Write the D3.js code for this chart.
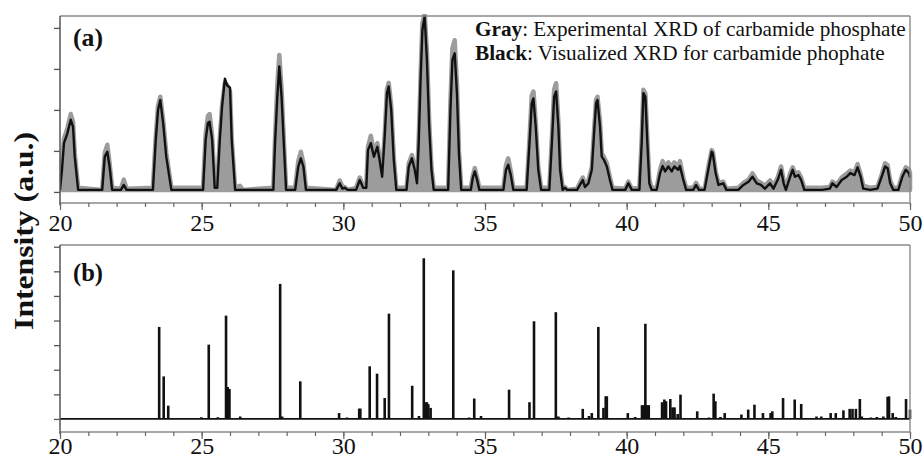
<!DOCTYPE html>
<html><head><meta charset="utf-8">
<script src="https://cdn.jsdelivr.net/npm/d3@7"></script>
<style>body{margin:0;background:#fff} svg{display:block} text{font-family:"Liberation Serif","Times New Roman",serif}</style>
</head><body><svg id="c" width="924" height="460"></svg>
<script>
// ---------- DATA ----------
const twoTheta = [20.00,20.07,20.14,20.26,20.38,20.46,20.52,20.64,21.49,21.58,21.67,21.75,21.84,22.15,22.25,22.35,23.28,23.38,23.46,23.54,23.64,23.75,23.93,25.05,25.14,25.22,25.28,25.37,25.46,25.55,25.64,25.72,25.82,25.90,26.00,26.06,26.18,26.35,26.45,27.53,27.59,27.67,27.74,27.82,27.91,27.98,28.30,28.41,28.50,28.59,28.68,29.75,29.87,29.97,30.05,30.15,30.45,30.58,30.70,30.81,30.87,30.97,31.08,31.20,31.28,31.37,31.46,31.54,31.60,31.69,31.78,31.87,32.23,32.31,32.42,32.52,32.60,32.66,32.73,32.79,32.87,32.95,33.03,33.11,33.19,33.70,33.78,33.85,33.93,34.01,34.08,34.16,34.50,34.57,34.64,34.72,34.80,35.65,35.74,35.82,35.91,36.00,36.47,36.57,36.65,36.71,36.79,36.88,36.98,37.27,37.36,37.44,37.51,37.59,37.65,37.74,37.82,37.90,38.25,38.35,38.45,38.53,38.65,38.77,38.85,38.92,38.97,39.06,39.12,39.20,39.30,39.41,39.50,39.95,40.06,40.18,40.45,40.53,40.59,40.66,40.73,40.80,40.88,41.06,41.18,41.27,41.36,41.47,41.59,41.68,41.82,41.88,42.00,42.10,42.35,42.45,42.55,42.75,42.88,43.00,43.04,43.14,43.24,43.41,43.52,43.94,44.12,44.30,44.44,44.59,44.74,44.88,45.06,45.18,45.33,45.45,45.54,45.62,45.77,45.86,45.94,46.06,46.16,46.27,46.60,46.90,47.17,47.26,47.41,47.59,47.77,47.89,48.04,48.15,48.26,48.35,48.60,48.85,49.00,49.12,49.21,49.30,49.41,49.59,49.73,49.85,49.96,50.00];
const experimental = [0.15,0.65,1.30,1.55,1.90,1.70,0.95,0.10,0.05,0.95,1.15,0.70,0.10,0.08,0.30,0.08,0.10,1.35,2.10,2.32,1.75,0.95,0.10,0.10,1.40,1.85,1.90,1.35,0.15,0.15,1.30,2.10,2.66,2.60,2.45,1.30,0.10,0.15,0.05,0.10,1.30,2.60,3.34,2.50,1.10,0.10,0.10,0.75,0.98,0.70,0.10,0.05,0.28,0.12,0.12,0.05,0.10,0.35,0.15,0.15,1.10,1.37,0.95,1.19,0.85,0.45,1.40,2.50,2.66,2.10,0.85,0.10,0.10,0.70,0.90,0.60,0.30,1.30,2.90,4.10,4.36,3.40,1.70,0.60,0.10,0.10,2.20,3.50,3.70,2.60,1.00,0.10,0.10,0.40,0.58,0.35,0.10,0.10,0.65,0.82,0.50,0.10,0.10,1.30,2.35,2.45,1.70,0.60,0.10,0.10,1.30,2.50,2.65,1.70,0.60,0.10,0.12,0.05,0.08,0.22,0.35,0.18,0.28,0.60,1.50,2.25,2.32,1.70,0.95,0.85,0.70,0.35,0.10,0.08,0.25,0.08,0.10,1.30,2.49,2.40,1.30,0.30,0.10,0.10,0.55,0.75,0.60,0.72,0.60,0.72,0.62,0.75,0.35,0.10,0.10,0.22,0.10,0.05,0.60,1.02,0.98,0.50,0.22,0.25,0.08,0.10,0.22,0.30,0.45,0.28,0.22,0.15,0.28,0.15,0.35,0.62,0.28,0.12,0.45,0.60,0.45,0.48,0.35,0.10,0.10,0.10,0.12,0.25,0.18,0.35,0.45,0.52,0.48,0.68,0.42,0.15,0.10,0.12,0.42,0.70,0.65,0.28,0.10,0.10,0.42,0.60,0.55,0.45];
const visualized = [0.05,0.54,1.19,1.43,1.76,1.59,0.86,0.05,0.05,0.86,0.98,0.62,0.05,0.05,0.17,0.05,0.05,1.27,2.00,2.24,1.68,0.86,0.05,0.05,1.27,1.68,1.71,1.27,0.10,0.10,1.27,2.08,2.76,2.60,2.54,1.27,0.05,0.05,0.05,0.05,1.19,2.32,3.06,2.32,1.02,0.05,0.05,0.62,0.82,0.62,0.05,0.05,0.21,0.08,0.10,0.05,0.05,0.29,0.10,0.10,1.02,1.19,0.86,1.10,0.78,0.37,1.35,2.41,2.57,2.00,0.78,0.05,0.05,0.62,0.82,0.54,0.21,1.19,2.81,3.95,4.28,3.22,1.59,0.54,0.05,0.05,2.00,3.22,3.38,2.41,0.94,0.05,0.05,0.35,0.50,0.30,0.05,0.05,0.54,0.66,0.41,0.05,0.05,1.19,2.16,2.28,1.59,0.54,0.05,0.05,1.19,2.32,2.45,1.59,0.54,0.05,0.10,0.05,0.05,0.17,0.29,0.12,0.21,0.54,1.43,2.16,2.24,1.59,0.86,0.78,0.62,0.29,0.05,0.05,0.21,0.05,0.05,1.19,2.41,2.32,1.19,0.21,0.05,0.05,0.46,0.63,0.50,0.62,0.50,0.62,0.54,0.63,0.29,0.05,0.05,0.17,0.05,0.05,0.54,0.98,0.94,0.46,0.17,0.21,0.05,0.05,0.17,0.25,0.37,0.21,0.17,0.08,0.21,0.08,0.29,0.54,0.21,0.05,0.37,0.54,0.37,0.41,0.29,0.05,0.05,0.05,0.08,0.21,0.12,0.29,0.37,0.46,0.41,0.60,0.37,0.08,0.05,0.08,0.37,0.62,0.58,0.21,0.05,0.05,0.37,0.54,0.46,0.35];

const stickTheta = [23.50,23.66,23.82,24.99,25.25,25.57,25.86,25.92,25.98,26.36,27.77,27.84,28.48,29.85,30.13,30.56,30.60,30.93,31.19,31.46,31.61,32.43,32.67,32.84,32.90,32.95,33.00,33.08,33.88,34.44,34.62,34.86,35.85,36.57,36.73,37.50,37.59,37.95,38.45,38.67,38.77,39.00,39.18,39.26,39.30,40.04,40.30,40.54,40.60,40.66,40.72,40.78,41.25,41.33,41.39,41.54,41.62,41.69,41.80,41.90,42.49,42.90,43.07,43.13,43.31,43.46,44.05,44.29,44.51,44.81,45.08,45.14,45.52,45.93,46.16,46.70,46.87,47.20,47.38,47.65,47.87,47.97,48.09,48.23,48.30,48.62,48.83,49.06,49.21,49.26,49.39,49.50,49.86,50.00];
const stickIntensity = [3.74,1.73,0.54,0.07,3.02,0.07,4.20,1.30,1.22,0.10,5.49,0.10,1.53,0.24,0.06,0.42,0.42,2.14,1.84,0.85,4.28,1.35,0.12,6.53,0.68,0.68,0.60,0.45,6.04,0.06,0.83,0.12,1.19,0.68,3.97,4.34,0.10,0.06,0.41,0.12,0.24,3.74,0.45,0.92,0.92,0.24,0.08,0.56,0.56,3.87,0.56,0.56,0.68,0.79,0.72,0.81,0.47,0.47,0.20,0.99,0.31,0.06,1.03,0.72,0.08,0.24,0.18,0.38,0.58,0.24,0.24,0.31,0.85,0.79,0.61,0.10,0.10,0.24,0.24,0.35,0.41,0.41,0.41,0.81,0.10,0.06,0.08,0.10,0.90,0.92,0.24,0.08,0.81,0.38];

const xMajorTicks = [20,25,30,35,40,45,50];
const xMinorTicks = d3.range(20,51,1);
const yTicksA = [0,1,2,3,4];
const yTicksB = [0,1,2,3,4,5,6,7];
const panelLabels = ["(a)","(b)"];
const yAxisTitle = "Intensity (a.u.)";
const legendBold = ["Gray","Black"];
const legendRest = [": Experimental XRD of carbamide phosphate",": Visualized XRD for carbamide phophate"];

// ---------- DRAW ----------
const svg = d3.select("#c");
const FONT = '"Liberation Serif","Times New Roman",serif';
const L = 60, R = 910;
const x = d3.scaleLinear().domain([20,50]).range([L,R]);
const yA = d3.scaleLinear().domain([-0.27,4.29]).range([203,16]);
const yB = d3.scaleLinear().domain([-0.53,7.07]).range([432,245]);
const frameCol = "#8a8a8a";

svg.append("defs").append("clipPath").attr("id","clipA")
  .append("rect").attr("x",L).attr("y",14).attr("width",R-L+4).attr("height",192);

// Panel A
const pA = svg.append("g");
const data = twoTheta.map((t,i)=>({t, e:experimental[i], v:visualized[i]}));
const gA = pA.append("g").attr("clip-path","url(#clipA)");
gA.append("path").datum(data)
  .attr("d", d3.area().x(d=>x(d.t)).y0(yA(0.05)).y1(d=>yA(d.e)))
  .attr("fill","#9c9c9c").attr("stroke","#9c9c9c").attr("stroke-width",4.5)
  .attr("stroke-linejoin","round");
gA.append("path").datum(data)
  .attr("d", d3.line().x(d=>x(d.t)).y(d=>yA(d.v)))
  .attr("fill","none").attr("stroke","#111").attr("stroke-width",2.4)
  .attr("stroke-linejoin","round");

function frame(g, y){
  const [y0,y1] = y.range();
  g.append("line").attr("x1",L).attr("x2",R).attr("y1",y1).attr("y2",y1).attr("stroke",frameCol).attr("stroke-width",1.4);
  g.append("line").attr("x1",R).attr("x2",R).attr("y1",y1).attr("y2",y0).attr("stroke",frameCol).attr("stroke-width",1.4);
  g.append("line").attr("x1",L).attr("x2",R).attr("y1",y0).attr("y2",y0).attr("stroke",frameCol).attr("stroke-width",1.4);
  g.append("line").attr("x1",L).attr("x2",L).attr("y1",y1).attr("y2",y0+2).attr("stroke","#555").attr("stroke-width",1.5);
}
function axes(g, y, yt, labelBaseline){
  const y0 = y.range()[0];
  const ax = g.append("g").attr("transform",`translate(0,${y0})`);
  ax.call(d3.axisBottom(x).tickValues(xMinorTicks).tickSize(4).tickFormat(""));
  ax.call(g2=>g2.select(".domain").remove());
  ax.selectAll("line").attr("stroke","#666").attr("stroke-width",1.2);
  const ax2 = g.append("g").attr("transform",`translate(0,${y0})`);
  ax2.call(d3.axisBottom(x).tickValues(xMajorTicks).tickSize(7).tickPadding(labelBaseline-y0-7).tickFormat(d3.format("d")));
  ax2.call(g2=>g2.select(".domain").remove());
  ax2.selectAll("line").attr("stroke","#666").attr("stroke-width",1.2);
  ax2.selectAll("text").style("font-family",FONT).attr("font-size",24).attr("fill","#111")
    .attr("dy",0);
  const ay = g.append("g").attr("transform",`translate(${L},0)`);
  ay.call(d3.axisLeft(y).tickValues(yt).tickSize(6).tickFormat(""));
  ay.call(g2=>g2.select(".domain").remove());
  ay.selectAll("line").attr("stroke","#555").attr("stroke-width",1.3);
}
// Panel B
const pB = svg.append("g");
pB.append("line").attr("x1",L).attr("x2",R).attr("y1",yB(0)).attr("y2",yB(0)).attr("stroke","#111").attr("stroke-width",1.8);
pB.selectAll("line.stick").data(stickTheta.map((t,i)=>({t,v:stickIntensity[i]}))).join("line")
  .attr("class","stick")
  .attr("x1",d=>x(d.t)).attr("x2",d=>x(d.t))
  .attr("y1",yB(0)).attr("y2",d=>yB(d.v))
  .attr("stroke","#111").attr("stroke-width",2.6);

frame(pA, yA); axes(pA, yA, yTicksA, 231);
frame(pB, yB); axes(pB, yB, yTicksB, 454);

// fitted text helper
function fitText(parent, tx, ty, rot, width, build){
  const g = parent.append("g").attr("transform",`translate(${tx},${ty}) rotate(${rot})`);
  const inner = g.append("g");
  const t = inner.append("text").style("font-family",FONT).attr("fill","#111");
  build(t);
  const w = t.node().getComputedTextLength();
  inner.attr("transform",`scale(${width/w},1)`);
  return t;
}
// panel labels
fitText(svg, 73, 45.5, 0, 30, t=>t.attr("font-size",25).attr("font-weight","bold").text(panelLabels[0]));
fitText(svg, 73, 280.5, 0, 30, t=>t.attr("font-size",25).attr("font-weight","bold").text(panelLabels[1]));
// legend
const legW = [431,410], legY = [36,59.5];
legendBold.forEach((b,i)=>{
  fitText(svg, 475, legY[i], 0, legW[i], t=>{
    t.attr("font-size",20.5);
    t.append("tspan").attr("font-weight","bold").text(b);
    t.append("tspan").text(legendRest[i]);
  });
});
// y axis title
fitText(svg, 33, 231, -90, 198, t=>t.attr("font-size",28).attr("font-weight","bold").attr("text-anchor","middle").text(yAxisTitle));
</script></body></html>
